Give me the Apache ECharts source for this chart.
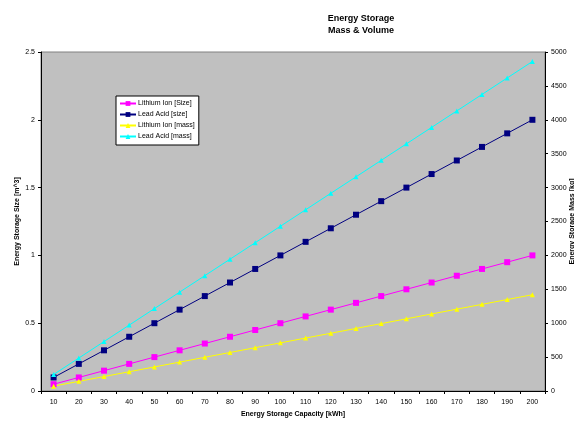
<!DOCTYPE html>
<html><head><meta charset="utf-8">
<script src="https://cdn.jsdelivr.net/npm/echarts@6/dist/echarts.min.js"></script>
<style>html,body{margin:0;padding:0;background:#fff}#c{width:574px;height:422px}</style>
</head><body><div id="c"></div>
<script>
const categories = [10,20,30,40,50,60,70,80,90,100,110,120,130,140,150,160,170,180,190,200];
const liIonSize = [0.05,0.1,0.15,0.2,0.25,0.3,0.35,0.4,0.45,0.5,0.55,0.6,0.65,0.7,0.75,0.8,0.85,0.9,0.95,1.0];
const leadAcidSize = [0.1,0.2,0.3,0.4,0.5,0.6,0.7,0.8,0.9,1.0,1.1,1.2,1.3,1.4,1.5,1.6,1.7,1.8,1.9,2.0];
const liIonMass = [71,142,213,284,355,426,497,568,639,710,781,852,923,994,1065,1136,1207,1278,1349,1420];
const leadAcidMass = [243,486,729,972,1215,1458,1701,1944,2187,2430,2673,2916,3159,3402,3645,3888,4131,4374,4617,4860];
const leftTicks = [0,0.5,1,1.5,2,2.5];
const rightTicks = [0,500,1000,1500,2000,2500,3000,3500,4000,4500,5000];

const font = 'Liberation Sans, Arial, sans-serif';
const chart = echarts.init(document.getElementById('c'), null, {renderer:'canvas'});
const lab = {fontFamily: font, fontSize: 7, color: '#000'};
chart.setOption({
  animation: false,
  backgroundColor: '#fff',
  title: {
    text: 'Energy Storage\nMass & Volume',
    left: 356, top: 8, textAlign: 'center',
    textStyle: {fontFamily: font, fontSize: 9, fontWeight: 'bold', color: '#000', lineHeight: 12}
  },
  legend: {
    orient: 'vertical', left: 116, top: 96,
    backgroundColor: '#fff', borderColor: '#000', borderWidth: 1, borderRadius: 0,
    padding: [4, 4, 5, 3], itemGap: 4, itemWidth: 16, itemHeight: 6,
    textStyle: {fontFamily: font, fontSize: 7, color: '#000', padding: [0,0,0,-3]},
    data: ['Lithium Ion [Size]', 'Lead Acid [size]', 'Lithium Ion [mass]', 'Lead Acid [mass]']
  },
  grid: {
    left: 41, right: 29, top: 52, bottom: 31, containLabel: false, outerBoundsMode: 'none',
    show: true, backgroundColor: '#C0C0C0', borderColor: '#808080', borderWidth: 1
  },
  xAxis: {
    type: 'category', data: categories, boundaryGap: true,
    name: 'Energy Storage Capacity [kWh]', nameLocation: 'middle', nameGap: 20, nameMoveOverlap: false,
    nameTextStyle: {fontFamily: font, fontSize: 7, fontWeight: 'bold', color: '#000'},
    axisLine: {lineStyle: {color: '#000', width: 1}},
    axisTick: {show: true, length: 3, lineStyle: {color: '#000'}, alignWithLabel: false},
    axisLabel: Object.assign({margin: 8, interval: 0}, lab),
    splitLine: {show: false}
  },
  yAxis: [{
    type: 'value', min: 0, max: 2.5, interval: 0.5, position: 'left',
    name: 'Energy Storage Size [m^3]', nameLocation: 'middle', nameGap: 20, nameRotate: 90, nameMoveOverlap: false,
    nameTextStyle: {fontFamily: font, fontSize: 7, fontWeight: 'bold', color: '#000'},
    axisLine: {show: true, lineStyle: {color: '#000', width: 1}},
    axisTick: {show: true, length: 3, lineStyle: {color: '#000'}},
    axisLabel: Object.assign({margin: 6, formatter: v => String(v)}, lab),
    splitLine: {show: false}
  }, {
    type: 'value', min: 0, max: 5000, interval: 500, position: 'right',
    name: 'Energy Storage Mass [kg]', nameLocation: 'middle', nameGap: 24, nameRotate: 90, nameMoveOverlap: false,
    nameTextStyle: {fontFamily: font, fontSize: 7, fontWeight: 'bold', color: '#000'},
    axisLine: {show: true, lineStyle: {color: '#000', width: 1}},
    axisTick: {show: true, length: 3, lineStyle: {color: '#000'}},
    axisLabel: Object.assign({margin: 6, formatter: v => String(v)}, lab),
    splitLine: {show: false}
  }],
  series: [
    {name: 'Lithium Ion [Size]', type: 'line', yAxisIndex: 0, data: liIonSize,
     symbol: 'rect', symbolSize: 6, lineStyle: {color: '#FF00FF', width: 1},
     itemStyle: {color: '#FF00FF'}},
    {name: 'Lead Acid [size]', type: 'line', yAxisIndex: 0, data: leadAcidSize,
     symbol: 'rect', symbolSize: 6, lineStyle: {color: '#000080', width: 1},
     itemStyle: {color: '#000080'}},
    {name: 'Lithium Ion [mass]', type: 'line', yAxisIndex: 1, data: liIonMass,
     symbol: 'triangle', symbolSize: 5, lineStyle: {color: '#FFFF00', width: 1},
     itemStyle: {color: '#FFFF00'}},
    {name: 'Lead Acid [mass]', type: 'line', yAxisIndex: 1, data: leadAcidMass,
     symbol: 'triangle', symbolSize: 5, lineStyle: {color: '#00FFFF', width: 1},
     itemStyle: {color: '#00FFFF'}}
  ]
});
</script></body></html>
